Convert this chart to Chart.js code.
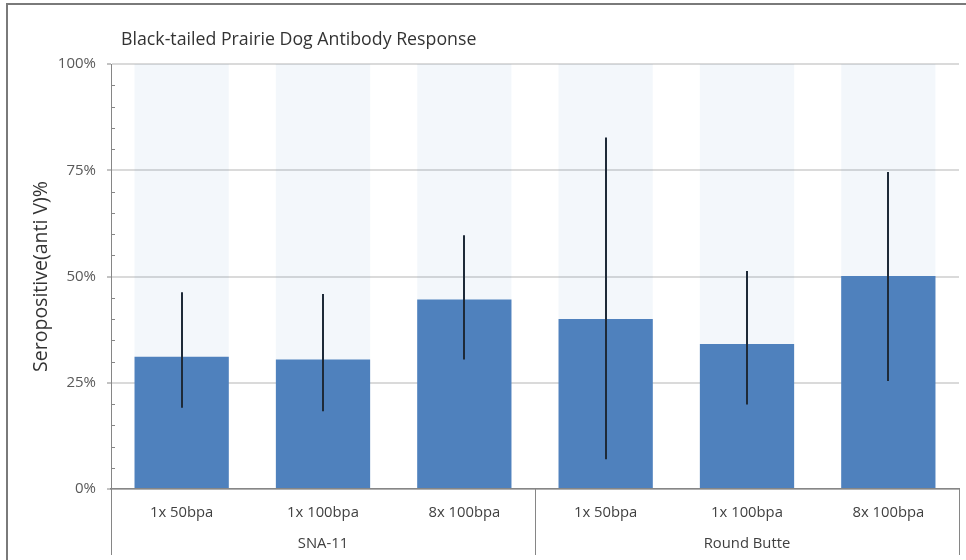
<!DOCTYPE html>
<html>
<head>
<meta charset="utf-8">
<script src="https://cdn.jsdelivr.net/npm/chart.js@4.4.1/dist/chart.umd.min.js"></script>
<style>
  html, body { margin: 0; padding: 0; background: #fff; }
</style>
</head>
<body>
<canvas id="antibodyChart" width="966" height="560"></canvas>
<script>
const chartTitle = 'Black-tailed Prairie Dog Antibody Response';
const categories = ['1x 50bpa', '1x 100bpa', '8x 100bpa', '1x 50bpa', '1x 100bpa', '8x 100bpa'];
const groups = ['SNA-11', 'Round Butte'];
const groupSize = [3, 3];
const seropositive = [31.1, 30.5, 44.6, 40.0, 34.1, 50.1];
const errorHigh = [46.3, 45.9, 59.7, 82.7, 51.3, 74.6];
const errorLow = [19.1, 18.3, 30.5, 7.0, 19.9, 25.4];
const bandTop = [100, 100, 100, 100, 100, 100];
const yTicks = [0, 25, 50, 75, 100];

const FONT = '"Open Sans", "Noto Sans", sans-serif';
const AXIS_GRAY = '#868686';

// frame, title, minor ticks, group separators and error bars
const decorations = {
  id: 'decorations',
  beforeDraw(chart) {
    const c = chart.ctx;
    c.save();
    c.strokeStyle = '#7a7a7a';
    c.lineWidth = 2;
    c.beginPath();
    c.moveTo(7, chart.height);
    c.lineTo(7, 4);
    c.lineTo(chart.width, 4);
    c.stroke();

    c.fillStyle = '#333333';
    c.font = '17.75px ' + FONT;
    c.textBaseline = 'middle';
    c.textAlign = 'left';
    c.fillText(chartTitle, 121, 40);
    c.restore();
  },
  afterDatasetsDraw(chart) {
    const c = chart.ctx;
    const x = chart.scales.x;
    const y = chart.scales.y;
    const bars = chart.getDatasetMeta(0).data;

    c.save();
    // error bars
    c.strokeStyle = '#1e2a38';
    c.lineWidth = 2;
    bars.forEach((bar, i) => {
      c.beginPath();
      c.moveTo(Math.round(bar.x), y.getPixelForValue(errorHigh[i]));
      c.lineTo(Math.round(bar.x), y.getPixelForValue(errorLow[i]));
      c.stroke();
    });

    // minor tick marks on the inside of the y axis
    c.strokeStyle = AXIS_GRAY;
    c.lineWidth = 1;
    for (let v = 5; v < 100; v += 5) {
      if (v % 25 === 0) continue;
      const py = Math.round(y.getPixelForValue(v)) + 0.5;
      c.beginPath();
      c.moveTo(x.left, py);
      c.lineTo(x.left + 4, py);
      c.stroke();
    }

    // vertical separators below the axis between the site groups
    const bottom = chart.chartArea.bottom;
    const sepBottom = bottom + 66;
    const seps = [x.left];
    let idx = 0;
    groupSize.forEach(n => {
      idx += n;
      seps.push(idx < bars.length ? (bars[idx - 1].x + bars[idx].x) / 2 : x.right);
    });
    c.strokeStyle = AXIS_GRAY;
    seps.forEach(sx => {
      const px = Math.round(sx) + 0.5;
      c.beginPath();
      c.moveTo(px, bottom);
      c.lineTo(px, sepBottom);
      c.stroke();
    });

    // site group names
    c.fillStyle = '#404040';
    c.font = '14.8px ' + FONT;
    c.textAlign = 'center';
    c.textBaseline = 'middle';
    idx = 0;
    groups.forEach((g, gi) => {
      const first = bars[idx].x;
      const last = bars[idx + groupSize[gi] - 1].x;
      c.fillText(g, (first + last) / 2, bottom + 55);
      idx += groupSize[gi];
    });
    c.restore();
  }
};

const canvas = document.getElementById('antibodyChart');
const chart = new Chart(canvas.getContext('2d'), {
  type: 'bar',
  data: {
    labels: categories,
    datasets: [
      {
        label: 'Seropositive',
        data: seropositive,
        backgroundColor: '#4f81bd',
        barPercentage: 0.667,
        categoryPercentage: 1,
        grouped: false,
        order: 1
      },
      {
        label: 'band',
        data: bandTop,
        backgroundColor: 'rgba(79, 129, 189, 0.065)',
        barPercentage: 0.667,
        categoryPercentage: 1,
        grouped: false,
        order: 2
      }
    ]
  },
  options: {
    responsive: false,
    animation: false,
    layout: { padding: { top: 64, left: 0, right: 7, bottom: 0 } },
    plugins: {
      legend: { display: false },
      tooltip: { enabled: false },
      title: { display: false }
    },
    scales: {
      x: {
        grid: { display: false },
        border: { color: AXIS_GRAY, width: 1.5 },
        ticks: {
          color: '#404040',
          font: { family: FONT, size: 14.8 },
          padding: 7,
          maxRotation: 0
        },
        afterFit: scale => { scale.height = 71; }
      },
      y: {
        min: 0,
        max: 100,
        afterBuildTicks: scale => { scale.ticks = yTicks.map(v => ({ value: v })); },
        ticks: {
          color: '#595959',
          font: { family: FONT, size: 15 },
          padding: 11,
          callback: v => v + '%'
        },
        grid: {
          color: '#dadada',
          lineWidth: 2,
          tickLength: 4,
          tickColor: AXIS_GRAY,
          tickWidth: 1
        },
        border: { color: AXIS_GRAY, width: 1 },
        title: {
          display: true,
          text: 'Seropositive(anti V)%',
          color: '#333333',
          font: { family: FONT, size: 19.5 },
          padding: { top: 30, bottom: 0 }
        },
        afterFit: scale => { scale.width = 111; }
      }
    }
  },
  plugins: [decorations]
});
</script>
</body>
</html>
